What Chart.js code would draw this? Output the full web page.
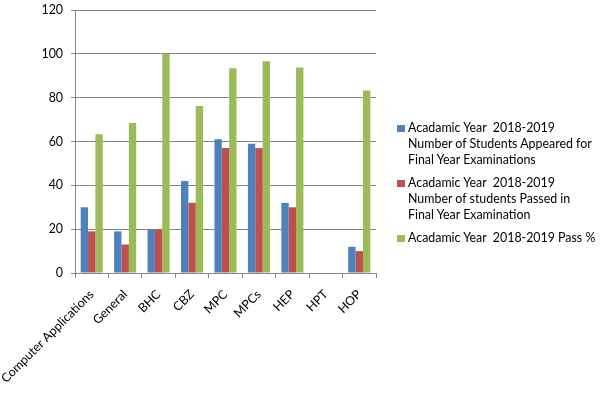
<!DOCTYPE html>
<html>
<head>
<meta charset="utf-8">
<script src="https://cdn.jsdelivr.net/npm/chart.js@4"></script>
<style>
html,body{margin:0;padding:0;background:#fff;}
#wrap{position:relative;width:602px;height:395px;}
#legend{position:absolute;left:397px;top:120px;font-family:Lato,"Open Sans",sans-serif;font-size:12.4px;line-height:16px;color:#000;}
.item{position:relative;padding-left:11px;margin-bottom:7px;white-space:pre;}
.sw{position:absolute;left:0;top:5px;width:8px;height:7px;}
</style>
</head>
<body>
<div id="wrap">
<canvas id="c" width="602" height="395"></canvas>
<div id="legend"></div>
</div>
<script>
const categories = ["Computer Applications","General","BHC","CBZ","MPC","MPCs","HEP","HPT","HOP"];
const appeared = [30,19,20,42,61,59,32,null,12];
const passed = [19,13,20,32,57,57,30,null,10];
const passPct = [63.3,68.4,100,76.2,93.4,96.6,93.8,null,83.3];
const seriesLabels = [
  "Acadamic Year  2018-2019\nNumber of Students Appeared for\nFinal Year Examinations",
  "Acadamic Year  2018-2019\nNumber of students Passed in\nFinal Year Examination",
  "Acadamic Year  2018-2019 Pass %"
];
const colors = ["#4F81BD","#C0504D","#9BBB59"];
const yTicks = [0,20,40,60,80,100,120];

const font = {family:"Lato, 'Open Sans', sans-serif", size:12.4};
const gridColor = "#868686";

new Chart(document.getElementById("c"), {
  type: "bar",
  data: {
    labels: categories,
    datasets: [appeared, passed, passPct].map((d,i)=>({
      label: seriesLabels[i], data: d, backgroundColor: colors[i],
      barPercentage: 1.0, categoryPercentage: 0.66
    }))
  },
  options: {
    responsive: false,
    animation: false,
    layout: {padding: {top: 10, right: 226, left: 0, bottom: 0}},
    plugins: {legend: {display: false}, tooltip: {enabled: false}},
    scales: {
      x: {
        offset: true,
        grid: {offset: true, drawOnChartArea: false, color: gridColor, tickLength: 5},
        border: {color: gridColor},
        ticks: {color: "#000", font: font, maxRotation: 45, minRotation: 45, padding: 9},
        afterFit: s => { s.height = 122; s.paddingLeft = 0; s.paddingRight = 0; }
      },
      y: {
        min: 0, max: 120,
        afterBuildTicks: s => { s.ticks = yTicks.map(v=>({value:v})); },
        grid: {color: gridColor, tickLength: 4},
        border: {color: gridColor},
        ticks: {color: "#000", font: font, padding: 8},
        afterFit: s => { s.width = 75; s.paddingTop = 0; s.paddingBottom = 0; }
      }
    }
  }
});

const lg = document.getElementById("legend");
seriesLabels.forEach((t,i)=>{
  const d = document.createElement("div"); d.className = "item";
  const sw = document.createElement("span"); sw.className = "sw"; sw.style.background = colors[i];
  d.appendChild(sw); d.appendChild(document.createTextNode(t));
  lg.appendChild(d);
});
</script>
</body>
</html>
